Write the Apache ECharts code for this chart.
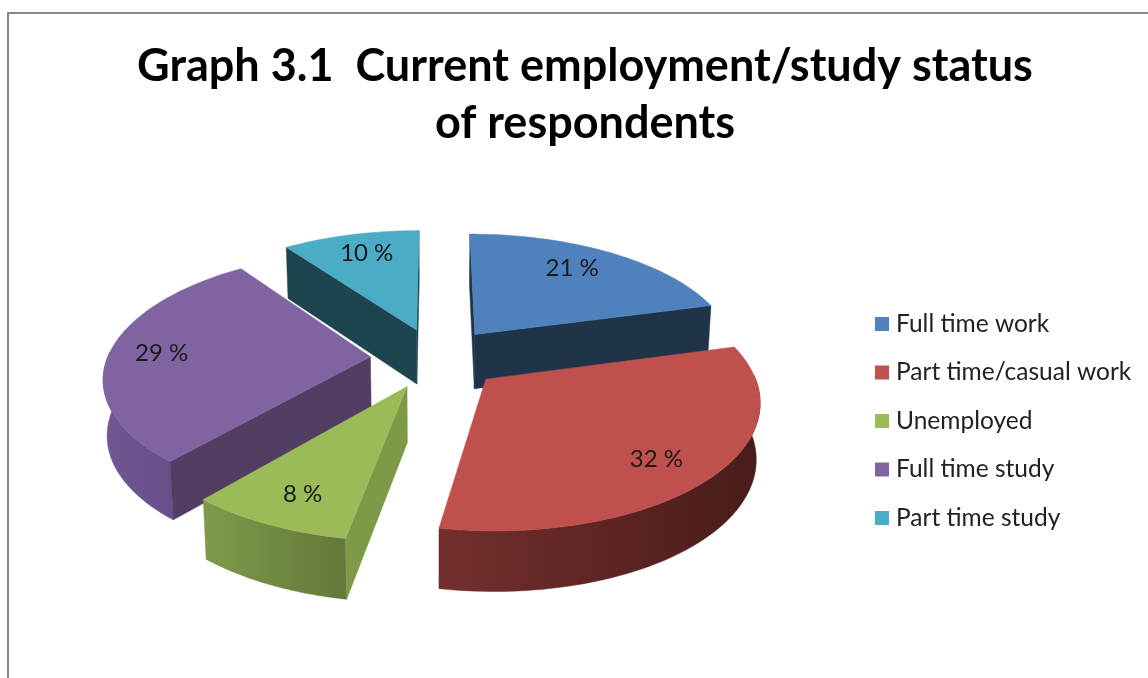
<!DOCTYPE html>
<html><head><meta charset="utf-8">
<style>html,body{margin:0;padding:0;background:#fff}#c{width:1148px;height:678px}</style>
<script src="https://cdn.jsdelivr.net/npm/echarts@6/dist/echarts.min.js"></script></head>
<body><div id="c"></div>
<script>
const categories = ['Full time work','Part time/casual work','Unemployed','Full time study','Part time study'];
const percents = [20.8,32.0,8.4,28.9,9.9];
const topColors = ['#4f81bd','#c0504d','#9bbb59','#8064a2','#4bacc6'];
const cutColors = ['#1f3349','#4c1f1d','#7d9a48','#523d63','#1e4450'];
const sideLight = ['#2a4565','#732f2d','#7e9b4a','#715692','#2d6a7a'];
const sideDark  = ['#1f3349','#481c1a','#63783a','#684f88','#1e4450'];
const labelReach = [0.76,0.80,0.80,0.80,0.78];
const labelTurn = [-3,3,-1,-0.3,1];
const drawOrder = [4,0,3,2,1];

// projection of the tilted disc
const CX=436, CY=358, RX=263, RY=122, EXPLODE=0.25, PERSP=0.15, DEPTH=55, TAPER=0.012;
function project(u,v,z){
  const w=1/(1-PERSP*v);
  return [CX+RX*u*w*(1-TAPER*z), CY+RY*v*w+DEPTH*z*Math.sqrt(w)];
}
const total=percents.reduce((a,b)=>a+b,0);
const angles=[];let acc=0;
percents.forEach(p=>{const s=acc/total*2*Math.PI;acc+=p;angles.push([s,acc/total*2*Math.PI]);});

function makeRender(i){
  return function(params,api){
    const [a0,a1]=angles[i], m=(a0+a1)/2;
    const ox=EXPLODE*Math.sin(m), oy=-EXPLODE*Math.cos(m);
    const rim=(t,z)=>project(ox+Math.sin(t),oy-Math.cos(t),z);
    const apex=z=>project(ox,oy,z);
    const N=60, arc=[];
    for(let k=0;k<=N;k++)arc.push(a0+(a1-a0)*k/N);
    const children=[];
    const poly=(points,fill)=>children.push({type:'polygon',shape:{points},style:{fill,stroke:fill,lineWidth:0.5},silent:true});
    const visible=arc.filter(t=>Math.cos(t)<=0.05);
    if(visible.length>1){
      const side=visible.map(t=>rim(t,0)).concat(visible.slice().reverse().map(t=>rim(t,1)));
      poly(side,new echarts.graphic.LinearGradient(0,0,1,0,[{offset:0,color:sideLight[i]},{offset:1,color:sideDark[i]}]));
    }
    // cut faces
    if(rim(a0,0)[0]<apex(0)[0]+6) poly([apex(0),rim(a0,0),rim(a0,1),apex(1)],cutColors[i]);
    if(apex(0)[0]<rim(a1,0)[0]) poly([rim(a1,0),apex(0),apex(1),rim(a1,1)],cutColors[i]);
    poly([apex(0)].concat(arc.map(t=>rim(t,0))),topColors[i]);
    const f=labelReach[i], lm=m+labelTurn[i]*Math.PI/180;
    const lp=project(ox+f*Math.sin(lm),oy-f*Math.cos(lm),0);
    children.push({type:'text',silent:true,style:{x:lp[0],y:lp[1],text:Math.round(api.value(0))+' %',fill:'#1a1a1a',
      font:'24px Lato',textAlign:'center',textVerticalAlign:'middle'}});
    return {type:'group',children};
  };
}
const series=categories.map((name,i)=>({
  type:'custom',name,coordinateSystem:'none',
  z:2+drawOrder.indexOf(i),
  itemStyle:{color:topColors[i]},
  data:[[percents[i]]],
  renderItem:makeRender(i)
}));
const chart=echarts.init(document.getElementById('c'),null,{renderer:'canvas'});
chart.setOption({
  animation:false,backgroundColor:'#fff',
  title:{text:'Graph 3.1  Current employment/study status\nof respondents',left:580,top:33,textAlign:'center',
    textStyle:{fontFamily:'Lato',fontSize:45,fontWeight:'bold',color:'#000',lineHeight:57}},
  legend:{orient:'vertical',left:870,top:306,itemWidth:14,itemHeight:14,itemGap:22.5,icon:'rect',
    data:categories,selectedMode:false,
    textStyle:{fontFamily:'Lato',fontSize:24.5,color:'#222',padding:[0,0,0,2],lineHeight:26}},
  graphic:[{type:'rect',z:0,silent:true,shape:{x:8,y:13,width:1300,height:800},style:{fill:'none',stroke:'#888',lineWidth:2}}],
  series
});
</script></body></html>
